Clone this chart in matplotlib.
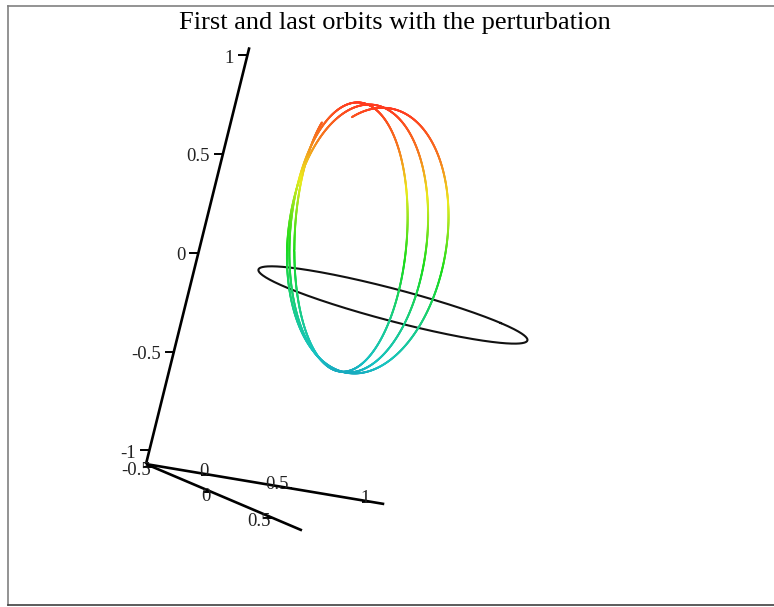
import numpy as np
import matplotlib
matplotlib.use("Agg")
import matplotlib.pyplot as plt
from matplotlib.collections import LineCollection
from matplotlib.colors import hsv_to_rgb
from matplotlib.lines import Line2D

# extents of the three drawn axes
X_RANGE = (-0.40, 1.08)
Y_RANGE = (-0.55, 0.75)
Z_RANGE = (-1.07, 1.04)
X_TICKS = [0, 0.5, 1]
Y_TICKS = [-0.5, 0, 0.5]
Z_TICKS = [-1, -0.5, 0, 0.5, 1]

# first orbit: circle in the z=0 plane
REF_CENTER = (0.335, 0.085, 0.0)
REF_RADIUS = 0.67

# last orbits: ellipse whose node, perigee and focus drift each revolution
FOCUS = (0.070, 0.085, -0.168)
FOCUS_DRIFT = (0.019, 0.0, 0.0)   # per revolution
SEMI_MAJOR = 0.657
ECC = 0.70
INCL = 102.9          # deg
NODE_START = -22.0    # deg
NODE_RATE = 9.2       # deg per revolution
PERIGEE_START = -88.0
PERIGEE_RATE = -2.6   # deg per revolution
E_START = 3.7         # eccentric anomaly, rad
N_REVS = 3.0

# hue against height (0 = highest point, 1 = lowest)
HUE_DEPTH = [0.0, 0.15, 0.30, 0.50, 0.75, 1.0]
HUE_VALUE = [0.02, 0.07, 0.16, 0.30, 0.42, 0.52]

# orthographic view, screen units per data unit
VIEW = np.array([[161.0, 120.0, 49.0],
                 [-27.0, -51.0, 197.5]])

SERIF = ['Liberation Serif', 'DejaVu Serif']


def project(pts):
    pts = np.atleast_2d(pts)
    s = pts @ VIEW.T
    return s[:, 0], s[:, 1]


def orbit_points():
    E = np.linspace(E_START, E_START + 2 * np.pi * N_REVS, 4000)
    revs = (E - E_START) / (2 * np.pi)
    node = np.radians(NODE_START + NODE_RATE * revs)
    argp = np.radians(PERIGEE_START + PERIGEE_RATE * revs)
    inc = np.radians(INCL)
    b = SEMI_MAJOR * np.sqrt(1 - ECC ** 2)
    xp = SEMI_MAJOR * (np.cos(E) - ECC)
    yp = b * np.sin(E)
    cO, sO, cw, sw, ci, si = np.cos(node), np.sin(node), np.cos(argp), np.sin(argp), np.cos(inc), np.sin(inc)
    P = np.stack([cO * cw - sO * sw * ci, sO * cw + cO * sw * ci, sw * si * np.ones_like(E)], axis=1)
    Q = np.stack([-cO * sw - sO * cw * ci, -sO * sw + cO * cw * ci, cw * si * np.ones_like(E)], axis=1)
    focus = np.array(FOCUS) + revs[:, None] * np.array(FOCUS_DRIFT)
    return focus + xp[:, None] * P + yp[:, None] * Q


fig = plt.figure(figsize=(7.74, 6.07), dpi=100)
ax = fig.add_axes([0, 0, 1, 1])
ax.set_xlim(-328.8, 445.2)
ax.set_ylim(-315.4, 291.6)
ax.axis('off')

# box axes
corner = np.array([X_RANGE[0], Y_RANGE[0], Z_RANGE[0]])
for k, rng in enumerate([X_RANGE, Y_RANGE, Z_RANGE]):
    end = corner.copy()
    end[k] = rng[1]
    sx, sy = project(np.vstack([corner, end]))
    ax.plot(sx, sy, color='black', lw=1.9, solid_capstyle='butt', zorder=3)

tick_style = dict(fontsize=13.5, family=SERIF, color='#222222', ha='right', va='center')


def draw_ticks(k, ticks, offset):
    for v in ticks:
        p = corner.copy()
        p[k] = v
        sx, sy = project(p)
        ax.plot([sx[0] - 8, sx[0]], [sy[0], sy[0]], color='black', lw=1.4, zorder=3)
        ax.annotate('%g' % v, (sx[0], sy[0]), xytext=offset, textcoords='offset points', **tick_style)


draw_ticks(0, X_TICKS, (-1.5, 2.5))
draw_ticks(1, Y_TICKS, (-1, -3))
draw_ticks(2, Z_TICKS, (-9.5, -2))

# first orbit
t = np.linspace(0, 2 * np.pi, 400)
ring = np.column_stack([REF_CENTER[0] + REF_RADIUS * np.cos(t),
                        REF_CENTER[1] + REF_RADIUS * np.sin(t),
                        np.full_like(t, REF_CENTER[2])])
rx, ry = project(ring)
ax.plot(rx, ry, color='#111111', lw=1.5, zorder=4)

# last orbits, shaded by height
pts = orbit_points()
ox, oy = project(pts)
z = pts[:, 2]
depth = (z.max() - z) / (z.max() - z.min())
hue = np.interp(depth, HUE_DEPTH, HUE_VALUE)
hsv = np.column_stack([hue, np.full_like(hue, 0.88), 1.0 - 0.25 * depth])
cols = hsv_to_rgb(hsv)
segs = np.stack([np.column_stack([ox[:-1], oy[:-1]]), np.column_stack([ox[1:], oy[1:]])], axis=1)
lc = LineCollection(segs, colors=cols[:-1], linewidths=1.4, capstyle='round', zorder=5)
ax.add_collection(lc)

fig.text(0.51, 0.962, 'First and last orbits with the perturbation', ha='center', va='center',
         fontsize=19, family=SERIF, color='black')

# window frame
fig.add_artist(Line2D([0.0097, 0.0097], [0.003, 0.99], transform=fig.transFigure, color='#808080', lw=1.2))
fig.add_artist(Line2D([0.0097, 1.0], [0.99, 0.99], transform=fig.transFigure, color='#808080', lw=1.2))
fig.add_artist(Line2D([0.0097, 1.0], [0.003, 0.003], transform=fig.transFigure, color='#404040', lw=1.2))

fig.savefig('out.png', dpi=100)
